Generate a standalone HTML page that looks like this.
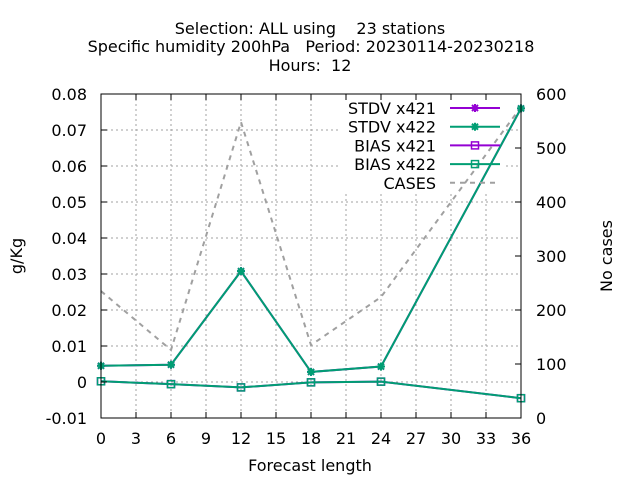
<!DOCTYPE html>
<html><head><meta charset="utf-8"><style>
body{margin:0;background:#fff}
svg text{font-family:"DejaVu Sans","Liberation Sans",sans-serif;font-size:16px;fill:#000}
</style></head><body>
<svg id="chart" width="640" height="480" xmlns="http://www.w3.org/2000/svg">
<rect width="640" height="480" fill="#fff"/>
<g text-anchor="middle">
<text x="310" y="34" xml:space="preserve">Selection: ALL using    23 stations</text>
<text x="311" y="52" xml:space="preserve">Specific humidity 200hPa   Period: 20230114-20230218</text>
<text x="310" y="71" xml:space="preserve">Hours:  12</text>
</g>
<g id="grid"></g>
<rect x="338" y="97" width="168" height="96" fill="#fff"/>
<g id="series"></g>
<rect x="101" y="94" width="420" height="324" fill="none" stroke="#000" stroke-width="1"/>
<g id="axes"></g>
<text x="310" y="471" text-anchor="middle">Forecast length</text>
<text transform="translate(22,256) rotate(-90)" text-anchor="middle">g/Kg</text>
<text transform="translate(612,256) rotate(-90)" text-anchor="middle">No cases</text>
<g id="legend"></g>
</svg>
<script>
const steps=[0,6,12,18,24,36];
const stdv421=[0.0045,0.0048,0.0308,0.0028,0.0043,0.0760];
const stdv422=[0.0045,0.0048,0.0308,0.0028,0.0043,0.0760];
const bias421=[0.0002,-0.0006,-0.0015,-0.0001,0.0001,-0.0045];
const bias422=[0.0002,-0.0006,-0.0015,-0.0001,0.0001,-0.0045];
const cases=[235,126,548,135,224,576];
const xTicks=[0,3,6,9,12,15,18,21,24,27,30,33,36];
const yTicks=[-0.01,0,0.01,0.02,0.03,0.04,0.05,0.06,0.07,0.08];
const yLabels=["-0.01","0","0.01","0.02","0.03","0.04","0.05","0.06","0.07","0.08"];
const y2Ticks=[0,100,200,300,400,500,600];

const NS="http://www.w3.org/2000/svg";
const X=v=>101+v*420/36;
const Y=v=>382-v*3600;
const Y2=v=>418-v*0.54;
function mk(p,t,a){const e=document.createElementNS(NS,t);for(const k in a)e.setAttribute(k,a[k]);p.appendChild(e);return e;}
const grid=document.getElementById('grid'),axes=document.getElementById('axes'),ser=document.getElementById('series'),leg=document.getElementById('legend');
xTicks.forEach(t=>{
 if(t>0&&t<36){const l=mk(grid,'line',{x1:X(t),x2:X(t),y1:94,y2:418,stroke:'#a0a0a0','stroke-dasharray':'2,3'});
 }
 const tk=mk(axes,'path',{d:`M${X(t)},418v-6M${X(t)},94v6`,stroke:'#000'});
 
 const tx=mk(axes,'text',{x:X(t),y:444,'text-anchor':'middle'});tx.textContent=t;
 
});
yTicks.forEach((t,i)=>{
 if(i>0&&i<yTicks.length-1){const l=mk(grid,'line',{x1:101,x2:521,y1:Y(t),y2:Y(t),stroke:'#a0a0a0','stroke-dasharray':'2,3'});
 }
 const tk=mk(axes,'path',{d:`M101,${Y(t)}h6`,stroke:'#000'});
 
 const tx=mk(axes,'text',{x:87,y:Y(t)+6,'text-anchor':'end'});tx.textContent=yLabels[i];
 
});
y2Ticks.forEach(t=>{
 const tk=mk(axes,'path',{d:`M521,${Y2(t)}h-6`,stroke:'#000'});
 
 const tx=mk(axes,'text',{x:536,y:Y2(t)+6});tx.textContent=t;
 
});
function star(g,x,y,c){mk(g,'path',{d:`M${x-4},${y}h8M${x},${y-4}v8M${x-3},${y-3}l6,6M${x-3},${y+3}l6,-6`,stroke:c,'stroke-width':2});}
function sq(g,x,y,c){mk(g,'rect',{x:x-3.5,y:y-3.5,width:7,height:7,fill:'none',stroke:c,'stroke-width':1.5});}
function line(vals,fy,c,mark,name,dash){
 const g=mk(ser,'g',{});
 
 const pts=steps.map((s,i)=>X(s)+','+fy(vals[i])).join(' ');
 const a={points:pts,fill:'none',stroke:c,'stroke-width':2};if(dash)a['stroke-dasharray']='5,5';
 mk(g,'polyline',a);
 if(mark)steps.forEach((s,i)=>mark(g,X(s),fy(vals[i]),c));
}
line(cases,Y2,'#a0a0a0',null,'cases-line',true);
line(stdv421,Y,'#9400d3',star,'stdv-x421-line');
line(bias421,Y,'#9400d3',sq,'bias-x421-line');
line(stdv422,Y,'#009e73',star,'stdv-x422-line');
line(bias422,Y,'#009e73',sq,'bias-x422-line');
const legItems=[["STDV x421",'#9400d3',star],["STDV x422",'#009e73',star],["BIAS x421",'#9400d3',sq],["BIAS x422",'#009e73',sq],["CASES",'#a0a0a0',null]];
legItems.forEach((it,i)=>{
 const y=108+i*18.7;
 const g=mk(leg,'g',{});
 
 const t=mk(g,'text',{x:436,y:y+6,'text-anchor':'end'});t.textContent=it[0];
 const a={x1:450,x2:500,y1:y,y2:y,stroke:it[1],'stroke-width':2};if(!it[2])a['stroke-dasharray']='5,5';
 mk(g,'line',a);
 if(it[2])it[2](g,475,y,it[1]);
});
</script>
</body></html>
